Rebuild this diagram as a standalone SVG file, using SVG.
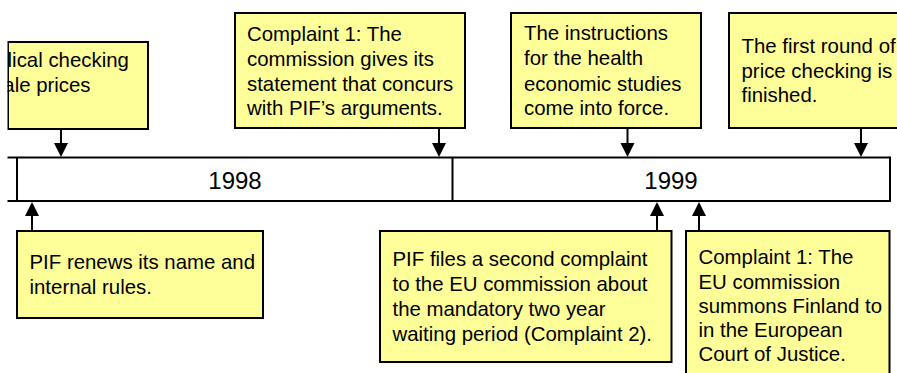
<svg xmlns="http://www.w3.org/2000/svg" width="897" height="373" viewBox="0 0 897 373">
<style>
.box{fill:#FFFF99;stroke:#000;stroke-width:2}
.t{font-family:"Liberation Sans",Arial,sans-serif;font-size:20.4px;fill:#000}
.yr{font-family:"Liberation Sans",Arial,sans-serif;font-size:24px;fill:#000;text-anchor:middle}
.bar{fill:none;stroke:#000;stroke-width:2}
.con{stroke:#000;stroke-width:2;fill:none}
.head{fill:#000}
</style>
<defs>
<clipPath id="page"><rect x="7.5" y="0" width="890" height="373"/></clipPath>
</defs>
<rect width="897" height="373" fill="#fff"/>
<g clip-path="url(#page)">
<g id="timeline">
<line class="bar" x1="0" y1="157.5" x2="890" y2="157.5"/>
<line class="bar" x1="0" y1="201" x2="890" y2="201"/>
<line class="bar" x1="17" y1="157.5" x2="17" y2="201"/>
<line class="bar" x1="452.5" y1="157.5" x2="452.5" y2="201"/>
<line class="bar" x1="890" y1="156.5" x2="890" y2="202"/>
<text class="yr" x="235" y="189">1998</text>
<text class="yr" x="671" y="189">1999</text>
</g>
<g id="nodeA">
<rect class="box" x="8" y="42" width="140" height="87"/>
<text class="t" x="7.6" y="67">lical checking</text>
<text class="t" x="3.3" y="92">ale prices</text>
</g>
<g id="nodeB">
<rect class="box" x="235" y="13" width="230" height="115"/>
<text class="t" x="247" y="41">Complaint 1: The</text>
<text class="t" x="247" y="66">commission gives its</text>
<text class="t" x="247" y="90.5">statement that concurs</text>
<text class="t" x="247" y="115">with PIF’s arguments.</text>
</g>
<g id="nodeC">
<rect class="box" x="511" y="13" width="190" height="115"/>
<text class="t" x="524" y="40">The instructions</text>
<text class="t" x="524" y="65">for the health</text>
<text class="t" x="524" y="90.5">economic studies</text>
<text class="t" x="524" y="115">come into force.</text>
</g>
<g id="nodeD">
<rect class="box" x="729" y="13" width="180" height="115"/>
<text class="t" x="741.5" y="53">The first round of</text>
<text class="t" x="741.5" y="77.5">price checking is</text>
<text class="t" x="741.5" y="102">finished.</text>
</g>
<g id="nodeE">
<rect class="box" x="17" y="231" width="246" height="87"/>
<text class="t" x="29.5" y="269">PIF renews its name and</text>
<text class="t" x="29.5" y="293.5">internal rules.</text>
</g>
<g id="nodeF">
<rect class="box" x="380" y="231" width="291.5" height="131"/>
<text class="t" x="392.5" y="266">PIF files a second complaint</text>
<text class="t" x="392.5" y="291">to the EU commission about</text>
<text class="t" x="392.5" y="316">the mandatory two year</text>
<text class="t" x="392.5" y="341">waiting period (Complaint 2).</text>
</g>
<g id="nodeG">
<rect class="box" x="686" y="231" width="203.5" height="160"/>
<text class="t" x="698.5" y="264">Complaint 1: The</text>
<text class="t" x="698.5" y="288.5">EU commission</text>
<text class="t" x="698.5" y="312.5">summons Finland to</text>
<text class="t" x="698.5" y="337">in the European</text>
<text class="t" x="698.5" y="361">Court of Justice.</text>
</g>
<g id="connectors">
<line class="con" x1="61" y1="129" x2="61" y2="144"/>
<polygon class="head" points="54,143 68,143 61,157"/>
<line class="con" x1="439" y1="128" x2="439" y2="144"/>
<polygon class="head" points="432,143 446,143 439,157"/>
<line class="con" x1="627.5" y1="128" x2="627.5" y2="144"/>
<polygon class="head" points="620.5,143 634.5,143 627.5,157"/>
<line class="con" x1="861" y1="128" x2="861" y2="144"/>
<polygon class="head" points="854,143 868,143 861,157"/>
<line class="con" x1="32" y1="231" x2="32" y2="215"/>
<polygon class="head" points="25,216 39,216 32,202"/>
<line class="con" x1="657" y1="231" x2="657" y2="215"/>
<polygon class="head" points="650,216 664,216 657,202"/>
<line class="con" x1="699" y1="231" x2="699" y2="215"/>
<polygon class="head" points="692,216 706,216 699,202"/>
</g>
</g>
</svg>
